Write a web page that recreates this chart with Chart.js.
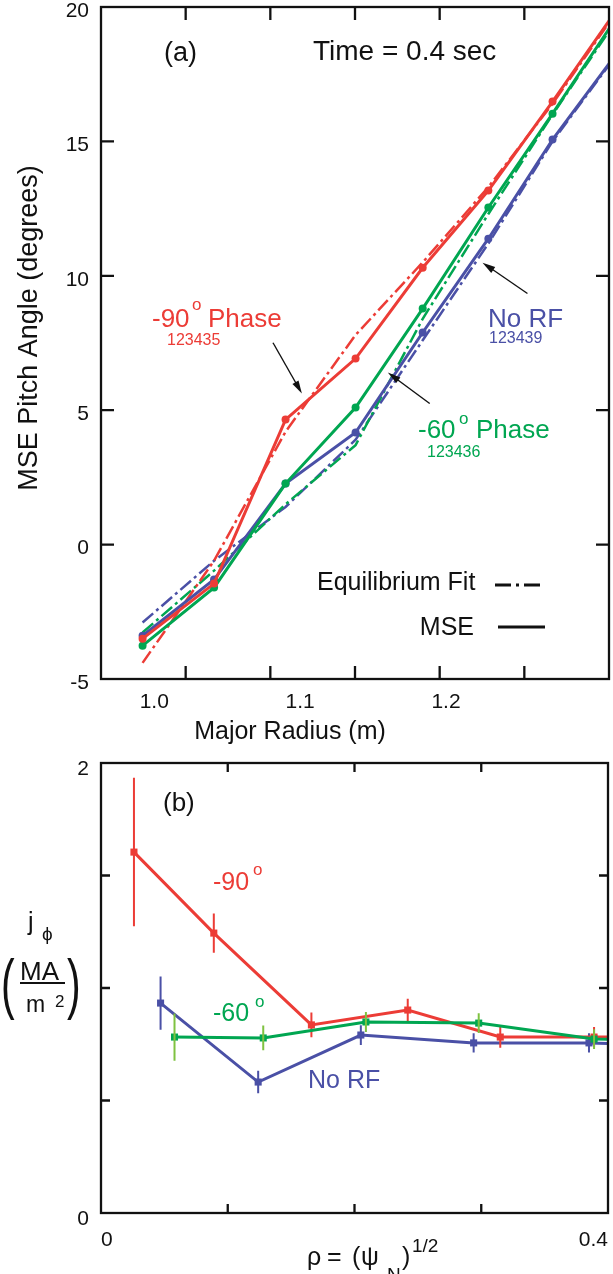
<!DOCTYPE html>
<html>
<head>
<meta charset="utf-8">
<title>MSE pitch angle and current density</title>
<script src="https://cdn.jsdelivr.net/npm/chart.js@4.4.1/dist/chart.umd.min.js"></script>
<style>
    html, body { margin: 0; padding: 0; background: #fff; }
    canvas { display: block; }
</style>
</head>
<body>
<canvas id="pitchChart" width="613" height="745"></canvas>
<canvas id="currentChart" width="613" height="529"></canvas>
<script>
// ---- panel (a): MSE pitch angle vs major radius ----
const majorRadius = [0.992, 1.041, 1.090, 1.138, 1.184, 1.229, 1.273, 1.318];
const mse90 = [-3.5, -1.45, 4.65, 6.92, 10.3, 13.17, 16.48, 19.97];
const mse60 = [-3.76, -1.6, 2.27, 5.1, 8.78, 12.54, 16.03, 19.7];
const mseNoRF = [-3.39, -1.3, 2.27, 4.17, 7.89, 11.38, 15.07, 18.35];
const fit90 = [-4.4, -0.6, 4.2, 7.8, 10.5, 13.3, 16.4, 19.9];
const fit60 = [-3.27, -0.97, 1.5, 3.7, 8.4, 12.3, 16.0, 19.6];
const fitNoRF = [-2.9, -0.6, 1.4, 3.9, 7.6, 11.2, 15.0, 18.3];
const radiusTicks = [1.0, 1.1, 1.2];
const pitchTicks = [-5, 0, 5, 10, 15, 20];

// ---- panel (b): j_phi vs rho ----
const rho90 = [0.026, 0.089, 0.166, 0.242, 0.315, 0.389, 0.46];
const j90 = [1.604, 1.244, 0.836, 0.902, 0.782, 0.782, 0.78];
const err90 = [0.33, 0.087, 0.055, 0.05, 0.047, 0.045, null];
const rho60 = [0.058, 0.128, 0.209, 0.298, 0.389, 0.46];
const j60 = [0.782, 0.778, 0.849, 0.844, 0.773, 0.77];
const err60 = [0.105, 0.055, 0.044, 0.044, 0.044, null];
const rhoNoRF = [0.047, 0.124, 0.205, 0.294, 0.385, 0.46];
const jNoRF = [0.933, 0.582, 0.791, 0.756, 0.756, 0.745];
const errNoRF = [0.118, 0.05, 0.044, 0.043, 0.043, null];
const rhoLabels = [0, 0.4];
const jLabels = [0, 2];

// arrows in panel (a), data units: [fromR, fromDeg, toR, toDeg]
const arrows = [
    [1.0814, 7.51, 1.1012, 5.62],
    [1.2558, 9.34, 1.2250, 10.49],
    [1.1888, 5.25, 1.1601, 6.40],
];

const RED = '#ec3c36';
const BLUE = '#4a50a6';
const GREEN = '#00a651';
const LIGHT_GREEN = '#7fc241';
const INK = '#111';
const FONT = "'Liberation Sans', Arial, 'DejaVu Sans', sans-serif";

Chart.defaults.font.family = FONT;
Chart.defaults.color = INK;

const pts = (xs, ys) => xs.map((x, i) => ({ x: x, y: ys[i] }));

function put(ctx, str, x, y, size, color, align) {
    ctx.font = size + 'px ' + FONT;
    ctx.fillStyle = color || INK;
    ctx.textAlign = align || 'left';
    ctx.textBaseline = 'alphabetic';
    ctx.fillText(str, x, y);
}

// tall thin bracket glyph, squeezed sideways
function bracket(ctx, str, x, y) {
    ctx.save();
    ctx.translate(x, y);
    ctx.scale(0.62, 1);
    put(ctx, str, 0, 0, 66);
    ctx.restore();
}

function arrow(ctx, x0, y0, x1, y1) {
    const a = Math.atan2(y1 - y0, x1 - x0), h = 13, w = 3.5;
    const c = Math.cos(a), s = Math.sin(a);
    ctx.strokeStyle = INK;
    ctx.fillStyle = INK;
    ctx.lineWidth = 1.4;
    ctx.beginPath();
    ctx.moveTo(x0, y0);
    ctx.lineTo(x1 - h * 0.8 * c, y1 - h * 0.8 * s);
    ctx.stroke();
    ctx.beginPath();
    ctx.moveTo(x1, y1);
    ctx.lineTo(x1 - h * c + w * s, y1 - h * s - w * c);
    ctx.lineTo(x1 - h * c - w * s, y1 - h * s + w * c);
    ctx.closePath();
    ctx.fill();
}

// box frame + inward tick marks
const framePlugin = {
    id: 'frame',
    afterDatasetsDraw(chart, args, opts) {
        const ctx = chart.ctx, a = chart.chartArea;
        ctx.save();
        ctx.strokeStyle = INK;
        ctx.lineWidth = opts.lineWidth;
        ctx.beginPath();
        (opts.xAxes || []).forEach(id => {
            const s = chart.scales[id];
            s.ticks.forEach(t => {
                if (t.value <= s.min + 1e-9 || t.value >= s.max - 1e-9) return;
                const px = s.getPixelForValue(t.value);
                ctx.moveTo(px, a.top);
                ctx.lineTo(px, a.top + opts.len);
                ctx.moveTo(px, a.bottom);
                ctx.lineTo(px, a.bottom - opts.len);
            });
        });
        (opts.yAxes || []).forEach(id => {
            const s = chart.scales[id];
            s.ticks.forEach(t => {
                if (t.value <= s.min + 1e-9 || t.value >= s.max - 1e-9) return;
                const py = s.getPixelForValue(t.value);
                ctx.moveTo(a.left, py);
                ctx.lineTo(a.left + opts.len, py);
                ctx.moveTo(a.right, py);
                ctx.lineTo(a.right - opts.len, py);
            });
        });
        ctx.stroke();
        ctx.strokeRect(a.left, a.top, a.right - a.left, a.bottom - a.top);
        ctx.restore();
    },
};

// vertical error bars from dataset.errors
const errorBarPlugin = {
    id: 'errorBars',
    afterDatasetDraw(chart, args) {
        const ds = chart.data.datasets[args.index];
        if (!ds.errors) return;
        const xs = chart.scales[args.meta.xAxisID];
        const ys = chart.scales[args.meta.yAxisID];
        const ctx = chart.ctx, a = chart.chartArea;
        ctx.save();
        ctx.beginPath();
        ctx.rect(a.left, a.top, a.right - a.left, a.bottom - a.top);
        ctx.clip();
        ctx.strokeStyle = ds.errorColor || ds.borderColor;
        ctx.lineWidth = 2;
        ctx.beginPath();
        ds.data.forEach((p, i) => {
            const e = ds.errors[i];
            if (e == null) return;
            const px = xs.getPixelForValue(p.x);
            ctx.moveTo(px, ys.getPixelForValue(p.y - e));
            ctx.lineTo(px, ys.getPixelForValue(p.y + e));
        });
        ctx.stroke();
        ctx.restore();
    },
};

const pitchText = {
    id: 'pitchText',
    afterDraw(chart) {
        const ctx = chart.ctx, xs = chart.scales.x, ys = chart.scales.y;
        ctx.save();
        put(ctx, '(a)', 164, 61, 27);
        put(ctx, 'Time = 0.4 sec', 313, 60, 28);

        put(ctx, '-90', 152, 327, 26, RED);
        put(ctx, 'o', 192, 310, 17, RED);
        put(ctx, 'Phase', 208, 327, 26, RED);
        put(ctx, '123435', 167, 345, 16, RED);

        put(ctx, 'No RF', 488, 327, 26, BLUE);
        put(ctx, '123439', 489, 343, 16, BLUE);

        put(ctx, '-60', 418, 438, 26, GREEN);
        put(ctx, 'o', 459, 424, 17, GREEN);
        put(ctx, 'Phase', 476, 438, 26, GREEN);
        put(ctx, '123436', 427, 457, 16, GREEN);

        arrows.forEach(r => arrow(ctx,
            xs.getPixelForValue(r[0]), ys.getPixelForValue(r[1]),
            xs.getPixelForValue(r[2]), ys.getPixelForValue(r[3])));

        // legend
        put(ctx, 'Equilibrium Fit', 317, 590, 25);
        put(ctx, 'MSE', 474, 635, 25, INK, 'right');
        ctx.strokeStyle = INK;
        ctx.lineWidth = 3;
        ctx.setLineDash([16, 5, 3, 5]);
        ctx.beginPath();
        ctx.moveTo(495, 585);
        ctx.lineTo(543, 585);
        ctx.stroke();
        ctx.setLineDash([]);
        ctx.beginPath();
        ctx.moveTo(498, 627);
        ctx.lineTo(545, 627);
        ctx.stroke();

        // axis titles
        put(ctx, 'Major Radius (m)', 290, 739, 25, INK, 'center');
        ctx.translate(37, 328);
        ctx.rotate(-Math.PI / 2);
        put(ctx, 'MSE Pitch Angle (degrees)', 0, 0, 27, INK, 'center');
        ctx.restore();
    },
};

const currentText = {
    id: 'currentText',
    afterDraw(chart) {
        const ctx = chart.ctx;
        ctx.save();
        put(ctx, '(b)', 163, 66, 26);
        put(ctx, '-90', 213, 145, 25, RED);
        put(ctx, 'o', 253, 130, 17, RED);
        put(ctx, '-60', 213, 276, 25, GREEN);
        put(ctx, 'o', 255, 262, 17, GREEN);
        put(ctx, 'No RF', 308, 343, 25, BLUE);

        // y title: j_phi (MA / m^2)
        put(ctx, 'j', 28, 185, 25);
        put(ctx, 'ϕ', 42, 195, 19);
        bracket(ctx, '(', 1, 261);
        bracket(ctx, ')', 67, 261);
        put(ctx, 'MA', 20, 235, 26);
        ctx.strokeStyle = INK;
        ctx.lineWidth = 2;
        ctx.beginPath();
        ctx.moveTo(20, 238);
        ctx.lineTo(65, 238);
        ctx.stroke();
        put(ctx, 'm', 26, 267, 23);
        put(ctx, '2', 55, 262, 17);

        // x title: rho = (psi_N)^1/2
        put(ctx, 'ρ', 307, 520, 25);
        put(ctx, '=', 327, 520, 25);
        put(ctx, '(', 352, 520, 25);
        put(ctx, 'ψ', 361, 520, 25);
        put(ctx, 'N', 387, 536, 19);
        put(ctx, ')', 402, 520, 25);
        put(ctx, '1/2', 412, 507, 19);
        ctx.restore();
    },
};

const mseSet = (color, ys) => ({
    data: pts(majorRadius, ys),
    borderColor: color,
    backgroundColor: color,
    borderWidth: 3,
    pointRadius: 4,
    pointBorderWidth: 0,
    pointBackgroundColor: color,
    tension: 0,
});
const fitSet = (color, ys) => ({
    data: pts(majorRadius, ys),
    borderColor: color,
    borderWidth: 2.5,
    borderDash: [14, 4, 3, 4],
    pointRadius: 0,
    tension: 0,
});

const axisText = { size: 21 };

const pc = document.getElementById('pitchChart');
if (pc) {
    const pitchChart = new Chart(pc, {
        type: 'line',
        data: {
            datasets: [
                mseSet(RED, mse90),
                mseSet(GREEN, mse60),
                mseSet(BLUE, mseNoRF),
                fitSet(RED, fit90),
                fitSet(GREEN, fit60),
                fitSet(BLUE, fitNoRF),
            ],
        },
        options: {
            responsive: false,
            animation: false,
            devicePixelRatio: 1,
            layout: { padding: { left: 0, right: 3, top: 7, bottom: 0 } },
            plugins: {
                legend: { display: false },
                tooltip: { enabled: false },
                frame: { lineWidth: 2.3, len: 13, xAxes: ['xt'], yAxes: ['y'] },
            },
            scales: {
                x: {
                    type: 'linear',
                    min: 0.9635,
                    max: 1.3117,
                    grid: { display: false, drawTicks: false },
                    border: { display: false },
                    afterBuildTicks: s => { s.ticks = radiusTicks.map(v => ({ value: v })); },
                    ticks: {
                        callback: v => v.toFixed(1),
                        font: axisText,
                        color: INK,
                        padding: 11,
                        maxRotation: 0,
                        autoSkip: false,
                    },
                    afterFit: s => { s.height = 66; s.paddingLeft = 0; s.paddingRight = 0; },
                },
                xt: {
                    type: 'linear',
                    display: false,
                    min: 0,
                    max: 6,
                    ticks: { stepSize: 1 },
                },
                y: {
                    type: 'linear',
                    min: -5,
                    max: 20,
                    grid: { display: false, drawTicks: false },
                    border: { display: false },
                    afterBuildTicks: s => { s.ticks = pitchTicks.map(v => ({ value: v })); },
                    ticks: { font: axisText, color: INK, padding: 12, labelOffset: 4 },
                    afterFit: s => { s.width = 101; s.paddingTop = 0; s.paddingBottom = 0; },
                },
            },
        },
        plugins: [framePlugin, pitchText],
    });
}

const jSet = (color, errColor, xs, ys, errs) => ({
    data: pts(xs, ys),
    errors: errs,
    errorColor: errColor,
    borderColor: color,
    backgroundColor: color,
    borderWidth: 3,
    pointStyle: 'rect',
    pointRadius: 5,
    pointBorderWidth: 0,
    pointBackgroundColor: color,
    tension: 0,
});

const cc = document.getElementById('currentChart');
if (cc) {
    const currentChart = new Chart(cc, {
        type: 'line',
        data: {
            datasets: [
                jSet(GREEN, LIGHT_GREEN, rho60, j60, err60),
                jSet(RED, RED, rho90, j90, err90),
                jSet(BLUE, BLUE, rhoNoRF, jNoRF, errNoRF),
            ],
        },
        options: {
            responsive: false,
            animation: false,
            devicePixelRatio: 1,
            layout: { padding: { left: 0, right: 4, top: 18, bottom: 0 } },
            plugins: {
                legend: { display: false },
                tooltip: { enabled: false },
                frame: { lineWidth: 2.3, len: 9, xAxes: ['x'], yAxes: ['y'] },
            },
            scales: {
                x: {
                    type: 'linear',
                    min: 0,
                    max: 0.4,
                    grid: { display: false, drawTicks: false },
                    border: { display: false },
                    ticks: {
                        stepSize: 0.1,
                        callback: v => rhoLabels.some(l => Math.abs(l - v) < 1e-9) ? String(+v.toFixed(1)) : '',
                        align: 'inner',
                        font: axisText,
                        color: INK,
                        padding: 15,
                        maxRotation: 0,
                        autoSkip: false,
                    },
                    afterFit: s => { s.height = 61; s.paddingLeft = 0; s.paddingRight = 0; },
                },
                y: {
                    type: 'linear',
                    min: 0,
                    max: 2,
                    grid: { display: false, drawTicks: false },
                    border: { display: false },
                    ticks: {
                        stepSize: 0.5,
                        callback: v => jLabels.includes(v) ? String(v) : '',
                        font: axisText,
                        color: INK,
                        padding: 12,
                        labelOffset: 6,
                    },
                    afterFit: s => { s.width = 101; s.paddingTop = 0; s.paddingBottom = 0; },
                },
            },
        },
        plugins: [framePlugin, errorBarPlugin, currentText],
    });
}
</script>
</body>
</html>
